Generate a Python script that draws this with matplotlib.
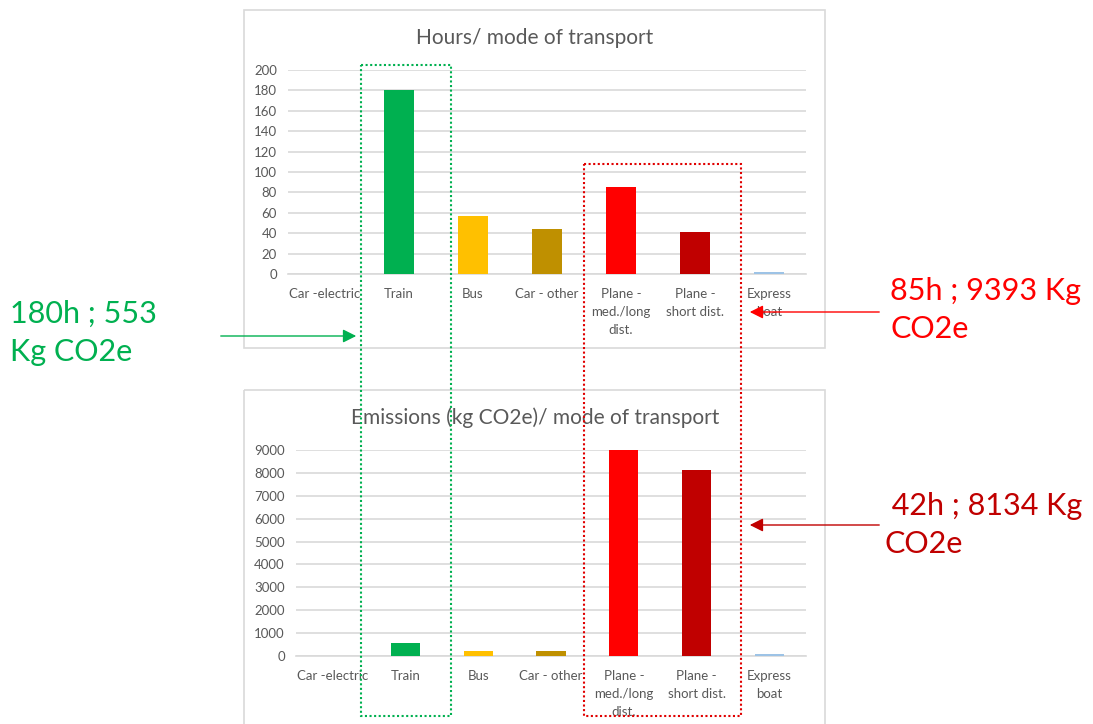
import matplotlib
matplotlib.use("Agg")
import matplotlib.pyplot as plt
from matplotlib.patches import Rectangle, FancyArrowPatch

categories = ["Car -electric", "Train", "Bus", "Car - other",
              "Plane -\nmed./long\ndist.", "Plane -\nshort dist.", "Express\nboat"]
hours = [0, 180, 57, 44, 85, 41, 1.5]
emissions = [0, 553, 220, 210, 9000, 8134, 90]
bar_colors = ["#A5A5A5", "#00B050", "#FFC000", "#BF9000", "#FF0000", "#C00000", "#9DC3E6"]
hours_ticks = [0, 20, 40, 60, 80, 100, 120, 140, 160, 180, 200]
em_ticks = [0, 1000, 2000, 3000, 4000, 5000, 6000, 7000, 8000, 9000]
notes = ["180h ; 553\nKg CO2e", "85h ; 9393 Kg\nCO2e", " 42h ; 8134 Kg\nCO2e"]

W, H = 1093, 724
plt.rcParams['font.family'] = ['Lato', 'DejaVu Sans']
fig = plt.figure(figsize=(W / 100, H / 100), dpi=100)
fig.patch.set_facecolor("white")

def px_axes(x0, y0, x1, y1, **kw):
    return fig.add_axes([x0 / W, 1 - y1 / H, (x1 - x0) / W, (y1 - y0) / H], **kw)

GRAY = "#595959"
GRID = "#D9D9D9"

def style_chart(ax, values, ticks, ymax):
    x = list(range(len(categories)))
    ax.bar(x, values, width=0.4, color=bar_colors, zorder=3)
    ax.set_xlim(-0.5, len(categories) - 0.5)
    ax.set_ylim(0, ymax)
    ax.set_yticks(ticks)
    ax.set_yticklabels([str(t) for t in ticks], color=GRAY, fontsize=9.5)
    ax.set_xticks(x)
    ax.set_xticklabels(categories, color=GRAY, fontsize=9.5, linespacing=1.6, va="top")
    ax.tick_params(length=0, pad=10)
    ax.tick_params(axis="y", pad=8)
    ax.grid(axis="y", color=GRID, linewidth=1.2, zorder=0)
    for s in ["top", "right", "left"]:
        ax.spines[s].set_visible(False)
    ax.spines["bottom"].set_color(GRID)
    ax.spines["bottom"].set_linewidth(1.2)
    ax.set_facecolor("none")

ax1 = px_axes(288, 70, 806, 274)
style_chart(ax1, hours, hours_ticks, 200)
ax2 = px_axes(296, 450, 806, 656)
style_chart(ax2, emissions, em_ticks, 9000)

fig.text(535 / W, 1 - 38 / H, "Hours/ mode of transport", ha="center", va="center",
         fontsize=15, color=GRAY)
fig.text(535 / W, 1 - 418 / H, "Emissions (kg CO2e)/ mode of transport", ha="center",
         va="center", fontsize=15, color=GRAY)

ov = fig.add_axes([0, 0, 1, 1], zorder=10)
ov.set_xlim(0, W)
ov.set_ylim(H, 0)
ov.axis("off")
ov.patch.set_alpha(0)

# panel borders
ov.add_patch(Rectangle((244, 10), 581, 338, fill=False, edgecolor=GRID, linewidth=1.2))
ov.add_patch(Rectangle((244, 390), 581, 340, fill=False, edgecolor=GRID, linewidth=1.2))

# dotted highlight boxes
ov.add_patch(Rectangle((361, 65), 90, 651, fill=False, edgecolor="#00B050",
                       linewidth=1.5, linestyle=(0, (1, 1.2))))
ov.add_patch(Rectangle((584, 164), 157, 552, fill=False, edgecolor="#E00000",
                       linewidth=1.5, linestyle=(0, (1, 1.2))))

# arrows
def arrow(x0, y0, x1, y1, c):
    ov.add_patch(FancyArrowPatch((x0, y0), (x1, y1), arrowstyle="-|>,head_length=8,head_width=4",
                                 color=c, linewidth=1, mutation_scale=1))

arrow(218, 336, 359, 336, "#00B050")
arrow(882, 312, 747, 312, "#FF0000")
arrow(882, 525, 747, 525, "#C00000")

ov.text(10, 333, notes[0], color="#00B050", fontsize=22, va="center", ha="left",
        linespacing=1.45)
ov.text(890, 310, notes[1], color="#FF0000", fontsize=22, va="center", ha="left",
        linespacing=1.45)
ov.text(884, 525, notes[2], color="#C00000", fontsize=22, va="center", ha="left",
        linespacing=1.45)

fig.savefig("out.png", dpi=100)
